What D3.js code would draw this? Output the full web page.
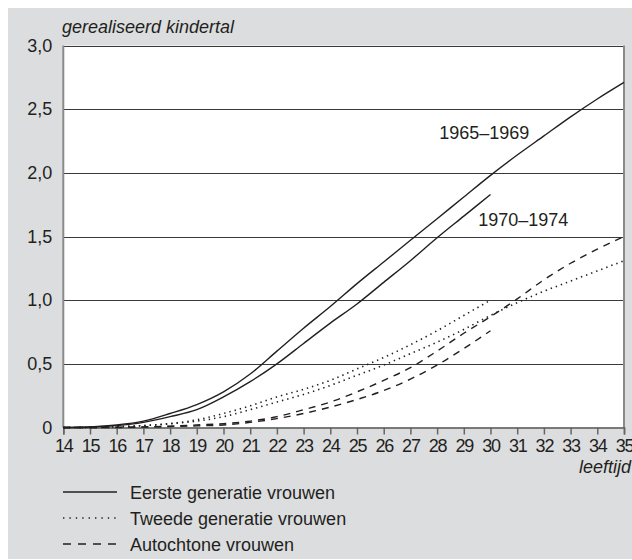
<!DOCTYPE html>
<html>
<head>
<meta charset="utf-8">
<script src="https://cdn.jsdelivr.net/npm/d3@7"></script>
<style>
    body { margin: 0; background: #fff; }
    svg { display: block; }
</style>
</head>
<body>
<svg id="chart" width="632" height="560"></svg>
<script>
// leeftijd 14..35
const ages = d3.range(14, 36);

const eerste6569 = [0, 0.005, 0.02, 0.05, 0.11, 0.18, 0.28, 0.42, 0.60, 0.78, 0.95,
    1.13, 1.30, 1.47, 1.64, 1.81, 1.98, 2.14, 2.29, 2.44, 2.58, 2.71];
const eerste7074 = [0, 0.004, 0.015, 0.04, 0.085, 0.14, 0.24, 0.36, 0.50, 0.66, 0.82,
    0.97, 1.14, 1.31, 1.49, 1.66, 1.83];
const tweede6569 = [0, 0, 0.005, 0.015, 0.03, 0.05, 0.085, 0.14, 0.20, 0.26, 0.33,
    0.41, 0.49, 0.58, 0.67, 0.77, 0.88, 0.98, 1.07, 1.15, 1.23, 1.31];
const tweede7074 = [0, 0, 0.005, 0.015, 0.03, 0.06, 0.11, 0.17, 0.24, 0.30, 0.37,
    0.46, 0.55, 0.65, 0.76, 0.88, 1.00];
const autoch6569 = [0, 0, 0.002, 0.005, 0.01, 0.02, 0.03, 0.05, 0.085, 0.14, 0.20,
    0.28, 0.37, 0.47, 0.60, 0.74, 0.87, 1.01, 1.16, 1.29, 1.40, 1.50];
const autoch7074 = [0, 0, 0, 0.003, 0.008, 0.013, 0.02, 0.04, 0.07, 0.11, 0.16,
    0.22, 0.29, 0.38, 0.49, 0.62, 0.76];

const yTicks = [0, 0.5, 1, 1.5, 2, 2.5, 3];
const legendLabels = ["Eerste generatie vrouwen", "Tweede generatie vrouwen", "Autochtone vrouwen"];
const styles = ["none", "1.4,4", "7,6"];

const font = "'Liberation Sans', Arial, sans-serif";
const ink = "#231f20";

const svg = d3.select("#chart")
    .attr("font-family", font);

svg.append("rect")
    .attr("x", 8).attr("y", 8)
    .attr("width", 640).attr("height", 551)
    .attr("fill", "#dcdddf");

const x = d3.scaleLinear().domain([14, 35]).range([63.3, 624]);
const y = d3.scaleLinear().domain([0, 3]).range([427.5, 45.5]);

svg.append("rect")
    .attr("x", x(14)).attr("y", y(3))
    .attr("width", x(35) - x(14)).attr("height", y(0) - y(3))
    .attr("fill", "#fff");

// gridlines
svg.append("g")
    .selectAll("line")
    .data(yTicks.filter(d => d > 0))
    .enter().append("line")
    .attr("x1", x(14)).attr("x2", x(35))
    .attr("y1", d => Math.round(y(d)) + 0.5).attr("y2", d => Math.round(y(d)) + 0.5)
    .attr("stroke", "#3a3a3a")
    .attr("stroke-width", 1);

// left & right border
svg.append("line")
    .attr("x1", x(14)).attr("x2", x(14))
    .attr("y1", y(3)).attr("y2", y(0))
    .attr("stroke", "#8a8a8a").attr("stroke-width", 2);
svg.append("line")
    .attr("x1", x(35)).attr("x2", x(35))
    .attr("y1", y(3)).attr("y2", y(0))
    .attr("stroke", "#8a8a8a").attr("stroke-width", 2);

// y axis labels
const yAxis = svg.append("g")
    .attr("transform", `translate(${x(14)},0)`)
    .call(d3.axisLeft(y).tickValues(yTicks).tickSize(0).tickPadding(11)
        .tickFormat(d => d === 0 ? "0" : d3.format(".1f")(d).replace(".", ",")));
yAxis.select(".domain").remove();
yAxis.selectAll("text")
    .attr("font-size", 18)
    .attr("font-family", font)
    .attr("fill", ink);

// x axis
const xAxis = svg.append("g")
    .attr("transform", `translate(0,${y(0)})`)
    .call(d3.axisBottom(x).tickValues(ages).tickSize(7).tickPadding(5).tickFormat(d3.format("d")));
xAxis.select(".domain")
    .attr("stroke", "#555").attr("stroke-width", 1.5);
xAxis.selectAll(".tick line")
    .attr("stroke", "#666").attr("stroke-width", 1.5);
xAxis.selectAll("text")
    .attr("font-size", 18)
    .attr("letter-spacing", -1.2)
    .attr("font-family", font)
    .attr("fill", ink);

// curves
const line = d3.line()
    .x((d, i) => x(ages[i]))
    .y(d => y(d))
    .curve(d3.curveMonotoneX);

const series = [
    {values: eerste6569, dash: styles[0]},
    {values: eerste7074, dash: styles[0]},
    {values: tweede6569, dash: styles[1]},
    {values: tweede7074, dash: styles[1]},
    {values: autoch6569, dash: styles[2]},
    {values: autoch7074, dash: styles[2]},
];

svg.append("g")
    .selectAll("path")
    .data(series)
    .enter().append("path")
    .attr("d", d => line(d.values))
    .attr("fill", "none")
    .attr("stroke", ink)
    .attr("stroke-width", d => d.dash === "1.4,4" ? 1.6 : 1.4)
    .attr("stroke-dasharray", d => d.dash);

// period labels
svg.append("text")
    .attr("x", x(28.08)).attr("y", y(2.263))
    .attr("font-size", 18).attr("fill", ink)
    .text("1965–1969");
svg.append("text")
    .attr("x", x(29.54)).attr("y", y(1.585))
    .attr("font-size", 18).attr("fill", ink)
    .text("1970–1974");

// axis titles
svg.append("text")
    .attr("x", 62).attr("y", 33)
    .attr("font-size", 18).attr("font-style", "italic").attr("fill", ink)
    .text("gerealiseerd kindertal");
svg.append("text")
    .attr("x", 631).attr("y", 473)
    .attr("text-anchor", "end")
    .attr("font-size", 18).attr("font-style", "italic").attr("fill", ink)
    .text("leeftijd");

// legend
const legend = svg.append("g")
    .selectAll("g")
    .data(legendLabels)
    .enter().append("g")
    .attr("transform", (d, i) => `translate(63,${492 + i * 26})`);

legend.append("line")
    .attr("x1", 0).attr("x2", 54)
    .attr("stroke", ink)
    .attr("stroke-width", (d, i) => i === 1 ? 1.6 : 1.4)
    .attr("stroke-dasharray", (d, i) => i === 1 ? "1.4,5" : i === 2 ? "8,7" : "none");

legend.append("text")
    .attr("x", 67).attr("y", 7)
    .attr("font-size", 18).attr("fill", ink)
    .text(d => d);
</script>
</body>
</html>
